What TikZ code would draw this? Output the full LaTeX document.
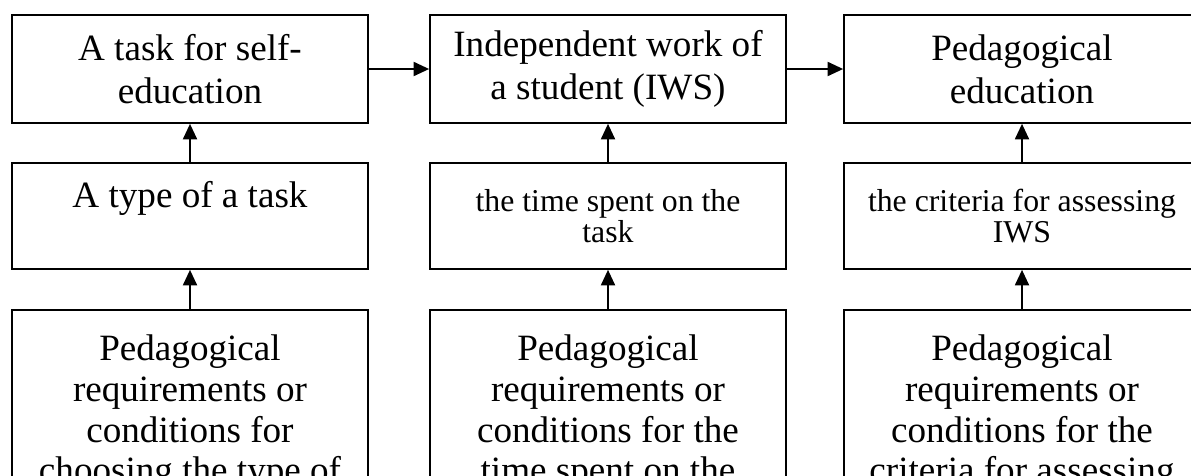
\documentclass[tikz,border=0pt]{standalone}
\usepackage{fontspec}
\setmainfont{Liberation Serif}
\usetikzlibrary{arrows.meta,positioning}

\begin{document}
\begin{tikzpicture}[x=0.025cm, y=-0.025cm,
  box/.style={rectangle, draw, line width=1.2pt, minimum width=8.9cm, minimum height=#1, align=center, inner sep=0pt},
  big/.style={font=\fontsize{26.4}{30.5}\selectfont},
  small/.style={font=\fontsize{22.6}{22.5}\selectfont},
  cond/.style={font=\fontsize{26.4}{29}\selectfont},
  link/.style={line width=1.2pt, -{Triangle[length=11pt, width=10pt]}}
]
  \useasboundingbox (0,0) rectangle (1191,475);
  % Top row
  \node[box=2.7cm, big] (task) at (190, 69) {A task for self-\\education};
  \node[box=2.7cm, big] (iws) at (608, 69) {Independent work of\\a student (IWS)};
  \node[box=2.7cm, big] (ped) at (1022, 69) {Pedagogical\\education};
  % Middle row
  \node[box=2.65cm, big] (type) at (190, 216) {A type of a task\\\mbox{}};
  \node[box=2.65cm, small] (time) at (608, 216) {the time spent on the\\task};
  \node[box=2.65cm, small] (crit) at (1022, 216) {the criteria for assessing\\IWS};
  % Bottom row
  \node[box=5.15cm, cond, anchor=north] (reqtype) at (190, 309) {Pedagogical\\requirements or\\conditions for\\choosing the type of};
  \node[box=5.15cm, cond, anchor=north] (reqtime) at (608, 309) {Pedagogical\\requirements or\\conditions for the\\time spent on the};
  \node[box=5.15cm, cond, anchor=north] (reqcrit) at (1022, 309) {Pedagogical\\requirements or\\conditions for the\\criteria for assessing};
  % Arrows
  \draw[link] (task) -- (iws);
  \draw[link] (iws) -- (ped);
  \draw[link] (type) -- (task);
  \draw[link] (time) -- (iws);
  \draw[link] (crit) -- (ped);
  \draw[link] (reqtype) -- (type);
  \draw[link] (reqtime) -- (time);
  \draw[link] (reqcrit) -- (crit);
\end{tikzpicture}
\end{document}
